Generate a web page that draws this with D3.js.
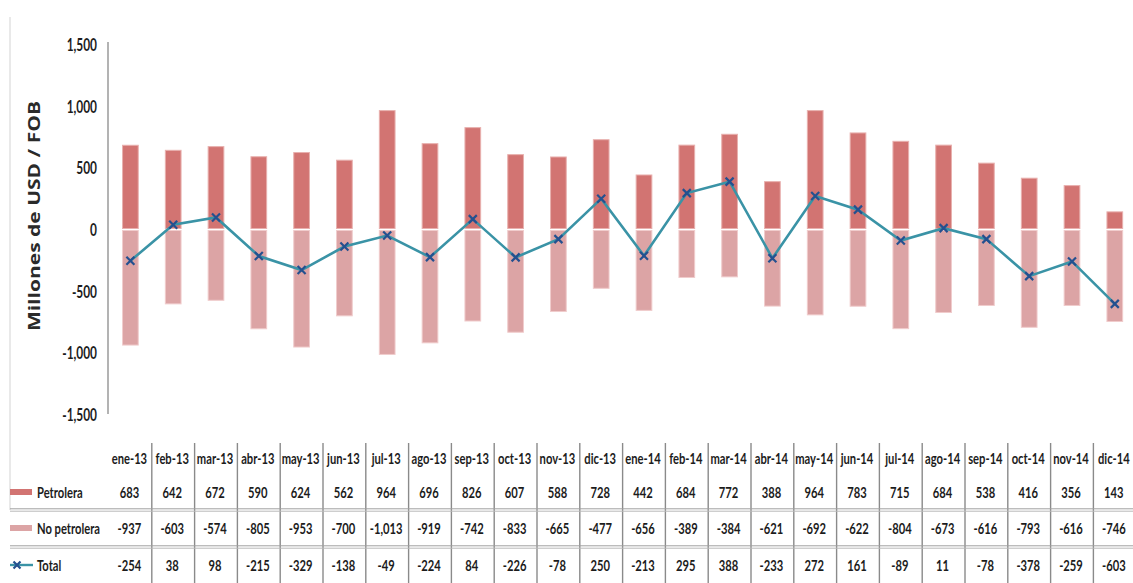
<!DOCTYPE html>
<html><head><meta charset="utf-8">
<script src="https://cdn.jsdelivr.net/npm/d3@7"></script>
<style>body{margin:0;background:#fff}svg{display:block}</style>
</head><body>
<svg id="c" width="1133" height="583"></svg>
<script>
const categories = ["ene-13","feb-13","mar-13","abr-13","may-13","jun-13","jul-13","ago-13","sep-13","oct-13","nov-13","dic-13",
  "ene-14","feb-14","mar-14","abr-14","may-14","jun-14","jul-14","ago-14","sep-14","oct-14","nov-14","dic-14"];
const petrolera = [683,642,672,590,624,562,964,696,826,607,588,728,442,684,772,388,964,783,715,684,538,416,356,143];
const noPetrolera = [-937,-603,-574,-805,-953,-700,-1013,-919,-742,-833,-665,-477,-656,-389,-384,-621,-692,-622,-804,-673,-616,-793,-616,-746];
const total = [-254,38,98,-215,-329,-138,-49,-224,84,-226,-78,250,-213,295,388,-233,272,161,-89,11,-78,-378,-259,-603];
const yTicks = [-1500,-1000,-500,0,500,1000,1500];
const seriesNames = ["Petrolera","No petrolera","Total"];
const axisTitle = "Millones de USD / FOB";

const colPet = "#d27472", colNo = "#dca4a5", colLine = "#3a93a6", colMark = "#24508f";
const FONT = "Lato, 'Liberation Sans', sans-serif";
const SX = 0.70;

const svg = d3.select("#c");
const cols = d3.scaleBand().domain(categories).range([109, 1136.2]).padding(0);
const bars = d3.scaleBand().domain(categories).range([109, 1136.2]).paddingInner(0.633).paddingOuter(0.3165);
const y = d3.scaleLinear().domain([-1500,1500]).range([414.5, 44.5]);

function sText(g, x, yy, txt, size, anchor, weight){
  return g.append("text").attr("transform",`translate(${x},${yy}) scale(${SX},1)`)
    .attr("text-anchor",anchor).attr("dominant-baseline","central")
    .attr("font-family",FONT).attr("font-size",size).attr("font-weight",weight||"bold")
    .attr("fill","#1c1c1c").text(txt);
}

// left faint frame line
svg.append("line").attr("x1",10).attr("x2",10).attr("y1",17).attr("y2",510).attr("stroke","#e2e2e2").attr("stroke-width",1.5);

// y axis
svg.append("line").attr("x1",108).attr("x2",108).attr("y1",42).attr("y2",414).attr("stroke","#9a9a9a").attr("stroke-width",1.5);
const fmt = d3.format(",");
yTicks.forEach(t=>{
  sText(svg, 97, y(t), fmt(t).replace("\u2212","-"), 17, "end");
});
svg.append("text").attr("transform",`translate(34,216) rotate(-90) scale(1,0.78)`)
  .attr("text-anchor","middle").attr("dominant-baseline","central")
  .attr("font-family","'Open Sans', 'DejaVu Sans', sans-serif").attr("font-size",21).attr("font-weight",700)
  .attr("fill","#2a2a2a").text(axisTitle);

// bars
const bw = bars.bandwidth();
const gb = svg.append("g");
gb.selectAll("rect.p").data(categories).join("rect").attr("class","p")
  .attr("x",d=>bars(d)).attr("width",bw)
  .attr("y",(d,i)=>y(petrolera[i])).attr("height",(d,i)=>y(0)-1-y(petrolera[i]))
  .attr("fill",colPet).attr("stroke","#e8b0ae").attr("stroke-width",1);
gb.selectAll("rect.n").data(categories).join("rect").attr("class","n")
  .attr("x",d=>bars(d)).attr("width",bw)
  .attr("y",y(0)+1).attr("height",(d,i)=>y(noPetrolera[i])-y(0)-1)
  .attr("fill",colNo).attr("stroke","#f0cccc").attr("stroke-width",1);

// line
const cx = d=>cols(d)+cols.bandwidth()/2;
const line = d3.line().x((d,i)=>cx(categories[i])).y(d=>y(d));
svg.append("path").datum(total).attr("d",line).attr("fill","none").attr("stroke",colLine).attr("stroke-width",2.6);
function xMark(g,x,yy,s){
  g.append("path").attr("d",`M${x-s},${yy-s}L${x+s},${yy+s}M${x+s},${yy-s}L${x-s},${yy+s}`)
    .attr("stroke",colMark).attr("stroke-width",2.2).attr("fill","none");
}
total.forEach((v,i)=>xMark(svg,cx(categories[i]),y(v),4));

// table
const rowY = [458,492,528,565];
const tg = svg.append("g");
categories.forEach((c,i)=>{
  if(i>0){
    tg.append("line").attr("x1",cols(c)).attr("x2",cols(c)).attr("y1",443).attr("y2",583).attr("stroke","#8a8a8a").attr("stroke-width",1.4);
  }
});
[510,547].forEach(yy=>{
  tg.append("line").attr("x1",10).attr("x2",1133).attr("y1",yy-1.2).attr("y2",yy-1.2).attr("stroke","#a0a0a0").attr("stroke-width",1);
  tg.append("line").attr("x1",10).attr("x2",1133).attr("y1",yy+1.2).attr("y2",yy+1.2).attr("stroke","#b8b8b8").attr("stroke-width",1);
});
const sfmt = v=>fmt(v).replace("\u2212","-");
categories.forEach((c,i)=>{
  const x = cx(c)-1;
  sText(tg, x, rowY[0], c, 16, "middle");
  sText(tg, x, rowY[1], sfmt(petrolera[i]), 16, "middle");
  sText(tg, x, rowY[2], sfmt(noPetrolera[i]), 16, "middle");
  sText(tg, x, rowY[3], sfmt(total[i]), 16, "middle");
});
// legend keys
tg.append("rect").attr("x",10).attr("y",rowY[1]-3).attr("width",22).attr("height",6).attr("fill",colPet);
tg.append("rect").attr("x",10).attr("y",rowY[2]-3).attr("width",22).attr("height",6).attr("fill",colNo);
tg.append("line").attr("x1",10).attr("x2",33).attr("y1",rowY[3]).attr("y2",rowY[3]).attr("stroke",colLine).attr("stroke-width",2.4);
xMark(tg,17,rowY[3],3.5);
seriesNames.forEach((s,i)=>sText(tg, 37, rowY[i+1], s, 16, "start"));
</script>
</body></html>
